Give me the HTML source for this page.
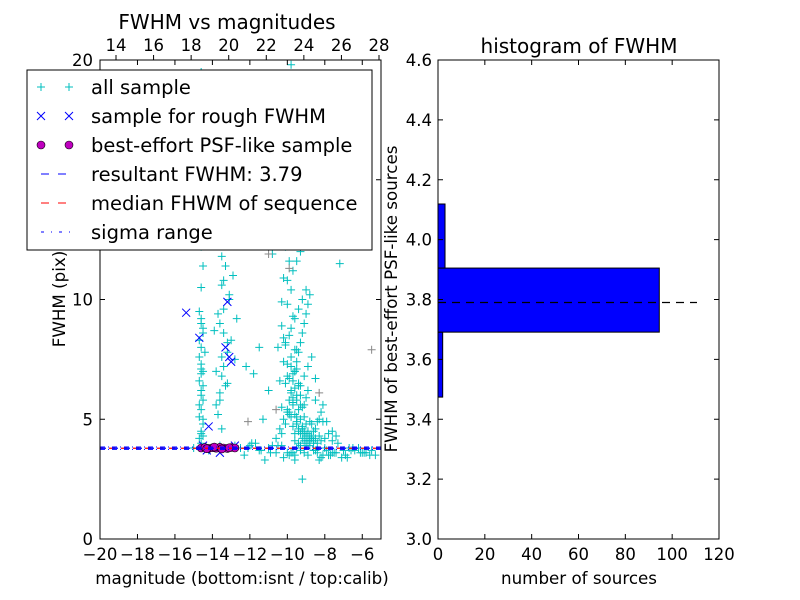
<!DOCTYPE html>
<html><head><meta charset="utf-8"><style>
body{margin:0;background:#fff;}
svg{display:block;font-family:"DejaVu Sans","Liberation Sans",sans-serif;}
</style></head><body>
<svg id="c" width="800" height="600" viewBox="0 0 800 600"></svg>
<script>
// ---- left scatter data ----
const allX=[-14.7,-14.6,-14.5,-14.7,-14.6,-14.5,-14.6,-14.7,-14.5,-14.6,-14.7,-14.6,-14.5,-14.6,-14.7,-14.6,-14.5,-14.6,-14.4,-14.6,-14.8,-14.5,-14.6,-14.7,-14.6,
-14.6,-14.5,-14.7,-14.6,-14.5,-14.6,-14.4,-14.7,-14.5,-14.6,-14.6,-14.5,
-13.8,-13.6,-13.5,-13.4,-13.2,-13.0,-13.6,-13.4,-13.1,-12.9,-13.5,-13.3,-13.7,-13.2,-12.8,-13.0,-13.9,-13.4,-12.7,-13.5,
-13.6,-13.3,-13.8,-13.5,-13.2,-13.4,-13.7,-13.1,-13.5,-13.3,
-10.6,-10.4,-10.2,-10.0,-9.9,-9.8,-9.7,-9.6,-9.5,-9.4,-9.3,-9.2,-9.1,-9.0,-8.9,-8.8,-10.3,-10.1,-9.9,-9.7,-9.5,-9.3,-9.1,-8.9,-8.7,-10.5,-10.2,-9.8,-9.6,-9.4,-9.2,-9.0,-8.6,-8.4,-8.2,-10.0,-9.7,-9.5,-9.3,-9.1,-8.8,-10.4,-10.0,-9.6,-9.2,-9.8,-9.6,-9.9,-9.7,-9.8,-10.1,-9.5,-11.3,-11.0,-11.5,-7.6,-7.9,-8.1,-8.5,-7.2,-11.8,-12.2,-10.8,-9.4,-9.0,-10.3,-9.6,
-10.1,-9.9,-10.2,-9.8,-10.0,-9.7,-10.3,-9.9,-10.1,-9.6,-9.8,-10.0,-9.5,-9.7,-9.9,-9.4,-9.6,-9.8,-9.3,-9.5,-9.7,-9.2,-9.4,-9.6,-9.1,-9.3,-9.5,-9.0,-9.2,-9.4,-8.9,-9.1,-9.3,-8.8,-9.0,-9.2,-8.7,-8.9,-9.1,-9.4,-8.6,-8.8,-9.0,-9.3,-9.6,-8.5,-8.7,-8.9,-9.2,-9.5,-9.8,-8.4,-8.6,-8.8,-9.1,-9.4,-9.7,-10.0,-8.3,-8.2,-8.5,-8.0,-7.8,-8.1,-7.6,-7.4,
-10.4,-10.0,-9.6,-10.2,-9.8,-9.4,-10.1,-9.7,-9.3,-9.9,-9.5,-9.1,-8.9,-9.6,-9.2,-8.8,-10.3,-8.5,-8.3,-9.0,-8.7,
-15.0,-14.2,-13.6,-12.5,-12.0,-11.5,-11.0,-10.5,-10.0,-9.5,-9.0,-8.5,-8.0,-7.5,-7.0,-6.5,-6.0,-5.5,-12.3,-11.7,-10.8,-9.7,-8.8,-7.8,-6.8,-6.2,-5.8,-8.3,-7.3,-9.2,-11.2,-10.2,
-12.8,-12.1,-11.4,-10.9,-10.3,-9.8,-9.3,-8.9,-8.4,-7.9,-7.4,-6.9,-6.4,-5.9,-5.3,-11.9,-10.6,-9.9,-9.1,-8.6,-8.1,-7.6,-7.1,-6.6,-6.1,-5.6,-9.6,-8.2,-7.7,-6.7];
const allY=[4.2,4.5,4.8,5.1,5.4,5.8,6.2,6.6,7.0,7.3,7.6,8.0,8.6,9.0,9.5,10.5,11.4,12.2,13.0,14.5,16.0,17.5,19.5,12.6,6.9,
4.4,5.0,5.6,6.0,6.4,7.1,7.8,8.3,8.8,9.2,4.0,4.3,
5.6,6.1,6.8,7.2,7.8,8.3,9.0,9.6,10.2,11.0,11.8,12.6,5.2,6.5,7.5,13.1,8.7,10.8,9.2,4.6,
5.8,6.4,7.0,7.6,8.2,8.6,9.4,10.0,10.6,11.4,
4.2,4.6,5.0,5.4,5.8,6.2,6.6,7.0,7.4,7.8,8.2,8.6,9.0,9.4,9.8,10.2,4.4,4.8,5.2,5.6,6.0,6.4,6.8,7.2,7.6,8.0,8.4,8.8,9.2,9.6,10.0,10.4,4.5,4.9,5.3,10.8,11.2,11.6,12.0,12.4,12.8,13.2,13.6,14.0,14.4,15.0,16.2,17.5,18.8,19.8,6.5,7.9,5.0,6.2,8.0,4.5,4.9,5.6,6.7,11.5,6.9,7.2,11.9,12.9,5.9,9.9,3.5,
12.2,11.6,10.9,10.4,9.8,9.3,8.9,8.5,8.1,7.9,7.6,7.3,7.1,6.9,6.7,6.5,6.3,6.1,6.0,5.8,5.7,5.5,5.4,5.2,5.1,5.0,4.9,4.8,4.7,4.6,4.5,4.5,4.4,4.3,4.3,4.2,4.2,4.1,4.1,4.0,4.0,3.9,4.0,3.9,4.1,4.2,4.3,4.4,4.6,4.8,5.1,4.0,4.1,4.2,4.4,4.5,4.7,5.3,4.3,4.1,4.6,4.2,4.4,4.9,4.1,4.3,
6.6,6.8,7.0,7.4,7.2,6.4,8.2,5.9,5.6,5.3,5.1,5.6,6.2,4.4,4.6,4.9,5.5,5.8,5.0,4.3,4.8,
3.8,3.7,3.9,3.8,3.9,3.7,3.8,3.9,3.6,3.8,3.9,3.7,3.8,3.6,3.7,3.8,3.6,3.7,3.5,4.0,3.9,3.6,4.1,3.5,3.4,3.8,3.6,3.3,4.0,2.5,3.3,3.4,
3.9,3.8,3.7,3.6,3.9,3.6,3.7,3.5,3.6,3.7,3.6,3.5,3.7,3.6,3.5,4.0,3.6,3.5,3.6,3.7,3.5,3.6,3.4,3.7,3.6,3.5,3.3,3.4,3.5,3.8];
const grayX=[-9.9,-5.5,-11.0,-8.3,-10.6,-12.1];
const grayY=[11.3,7.9,11.9,6.1,5.4,4.9];
const roughX=[-15.4,-14.7,-14.2,-13.2,-13.3,-13.1,-13.0,-14.5,-13.6,-12.8,-14.3];
const roughY=[9.45,8.4,4.7,9.9,8.0,7.6,7.4,3.9,3.6,3.9,3.7];
const bestX=[-14.6,-14.4,-14.2,-14.0,-13.8,-13.6,-13.4,-13.2,-13.0,-12.8,-14.3,-13.9,-13.5,-13.1];
const bestY=[3.80,3.82,3.78,3.81,3.79,3.83,3.80,3.78,3.82,3.80,3.77,3.84,3.76,3.81];
const resultFWHM=3.79, sigLo=3.74, sigHi=3.84;
const xTicks=[-20,-18,-16,-14,-12,-10,-8,-6];
const yTicks=[0,5,10,15,20];
const topTicks=[14,16,18,20,22,24,26,28];
// ---- histogram data ----
const binLo=[3.474,3.691,3.905];
const binHi=[3.691,3.905,4.119];
const counts=[2,94.5,3];
const hxTicks=[0,20,40,60,80,100,120];
const hyTicks=[3.0,3.2,3.4,3.6,3.8,4.0,4.2,4.4,4.6];

const NS="http://www.w3.org/2000/svg", svg=document.getElementById('c');
function el(t,a,p){const e=document.createElementNS(NS,t);for(const k in a)e.setAttribute(k,a[k]);(p||svg).appendChild(e);return e;}
function txt(s,a){const e=el('text',a);e.textContent=s;return e;}
const TF=16.5;
// left axes
const L={x0:100,x1:381,y0:539,y1:60};
const lx=m=>L.x0+(m+20)/15*(L.x1-L.x0);
const ly=f=>L.y0-f/20*(L.y0-L.y1);
const tx=v=>116+(v-14)*(379-116)/14;
const gL=el('g',{});

function plus(x,y,c,g){el('path',{d:`M${x-4} ${y}h8M${x} ${y-4}v8`,stroke:c,'stroke-width':1,fill:'none'},g);}
function cross(x,y,c,g){el('path',{d:`M${x-4} ${y-4}l8 8M${x-4} ${y+4}l8 -8`,stroke:c,'stroke-width':1,fill:'none'},g);}
const clip=el('clipPath',{id:'cl'});el('rect',{x:L.x0,y:L.y1,width:L.x1-L.x0,height:L.y0-L.y1},clip);
const gd=el('g',{'clip-path':'url(#cl)'},gL);

allX.forEach((x,i)=>plus(lx(x),ly(allY[i]),'#00bfbf',gd));
grayX.forEach((x,i)=>plus(lx(x),ly(grayY[i]),'#888',gd));
roughX.forEach((x,i)=>cross(lx(x),ly(roughY[i]),'#0000ff',gd));
bestX.forEach((x,i)=>el('circle',{cx:lx(x),cy:ly(bestY[i]),r:4,fill:'#bf00bf',stroke:'#000','stroke-width':0.6},gd));
el('line',{x1:L.x0,x2:L.x1,y1:ly(resultFWHM),y2:ly(resultFWHM),stroke:'#ff0000','stroke-width':1.3,'stroke-dasharray':'6 6','stroke-dashoffset':3},gd);
el('line',{x1:L.x0,x2:L.x1,y1:ly(resultFWHM),y2:ly(resultFWHM),stroke:'#0000ff','stroke-width':1.3,'stroke-dasharray':'6 6'},gd);
el('line',{x1:L.x0,x2:L.x1,y1:ly(sigLo),y2:ly(sigLo),stroke:'#0000ff','stroke-dasharray':'5 3 1 3'},gd);
el('line',{x1:L.x0,x2:L.x1,y1:ly(sigHi),y2:ly(sigHi),stroke:'#0000ff','stroke-dasharray':'5 3 1 3'},gd);
el('rect',{x:L.x0,y:L.y1,width:L.x1-L.x0,height:L.y0-L.y1,fill:'none',stroke:'#000'},gL);
xTicks.forEach(v=>{const x=lx(v);el('path',{d:`M${x} ${L.y0}v-5M${x} ${L.y1}v5`,stroke:'#000'},gL);txt('\u2212'+Math.abs(v),{x:x,y:560,'text-anchor':'middle','font-size':TF});});
topTicks.forEach(v=>{const x=tx(v);el('path',{d:`M${x} ${L.y1}v-5`,stroke:'#000'},gL);txt(v,{x:x,y:51,'text-anchor':'middle','font-size':TF});});
yTicks.forEach(v=>{const y=ly(v);el('path',{d:`M${L.x0} ${y}h5M${L.x1} ${y}h-5`,stroke:'#000'},gL);txt(v,{x:93,y:y+6,'text-anchor':'end','font-size':TF});});
txt('FWHM vs magnitudes',{x:227,y:29,'text-anchor':'middle','font-size':20});
txt('magnitude (bottom:isnt / top:calib)',{x:242,y:584,'text-anchor':'middle','font-size':16.7});
txt('FWHM (pix)',{x:0,y:0,'text-anchor':'middle','font-size':16.7,transform:'translate(65,299) rotate(-90)'});
// legend
const lg=el('g',{});

el('rect',{x:27,y:70,width:345,height:180,fill:'#fff',stroke:'#000'},lg);
const items=['all sample','sample for rough FWHM','best-effort PSF-like sample','resultant FWHM: 3.79','median FHWM of sequence','sigma range'];
items.forEach((s,i)=>{const y=87+i*29;
 if(i==0){plus(41,y,'#00bfbf',lg);plus(69,y,'#00bfbf',lg);}
 if(i==1){cross(41,y,'#0000ff',lg);cross(69,y,'#0000ff',lg);}
 if(i==2){el('circle',{cx:41,cy:y,r:4,fill:'#bf00bf',stroke:'#000','stroke-width':0.6},lg);el('circle',{cx:69,cy:y,r:4,fill:'#bf00bf',stroke:'#000','stroke-width':0.6},lg);}
 if(i==3)el('line',{x1:41,x2:73,y1:y,y2:y,stroke:'#0000ff','stroke-dasharray':'8 9'},lg);
 if(i==4)el('line',{x1:41,x2:73,y1:y,y2:y,stroke:'#ff0000','stroke-dasharray':'8 9'},lg);
 if(i==5)el('line',{x1:41,x2:73,y1:y,y2:y,stroke:'#0000ff','stroke-dasharray':'3 7 1 7'},lg);
 const t=txt(s,{x:91,y:y+7,'font-size':19.5});lg.appendChild(t);
 });
// right histogram
const R={x0:438,x1:719,y0:539,y1:60};
const rx=c=>R.x0+c/120*(R.x1-R.x0);
const ry=v=>R.y0-(v-3.0)/1.6*(R.y0-R.y1);
const gR=el('g',{});

counts.forEach((c,i)=>{const r=el('rect',{x:rx(0),y:ry(binHi[i]),width:rx(c)-rx(0),height:ry(binLo[i])-ry(binHi[i]),fill:'#0000ff',stroke:'#000'},gR);
 });
el('line',{x1:rx(0),x2:rx(110.6),y1:ry(resultFWHM),y2:ry(resultFWHM),stroke:'#000','stroke-width':1.3,'stroke-dasharray':'8 6'},gR);
el('rect',{x:R.x0,y:R.y1,width:R.x1-R.x0,height:R.y0-R.y1,fill:'none',stroke:'#000'},gR);
hxTicks.forEach(v=>{const x=rx(v);el('path',{d:`M${x} ${R.y0}v-5M${x} ${R.y1}v5`,stroke:'#000'},gR);txt(v,{x:x,y:560,'text-anchor':'middle','font-size':TF});});
hyTicks.forEach(v=>{const y=ry(v);el('path',{d:`M${R.x0} ${y}h5M${R.x1} ${y}h-5`,stroke:'#000'},gR);txt(v.toFixed(1),{x:432,y:y+6,'text-anchor':'end','font-size':TF});});
txt('histogram of FWHM',{x:579,y:53,'text-anchor':'middle','font-size':20});
txt('number of sources',{x:579,y:584,'text-anchor':'middle','font-size':16.7});
txt('FWHM of best-effort PSF-like sources',{x:0,y:0,'text-anchor':'middle','font-size':16.7,transform:'translate(397,299) rotate(-90)'});
</script>
</body></html>
